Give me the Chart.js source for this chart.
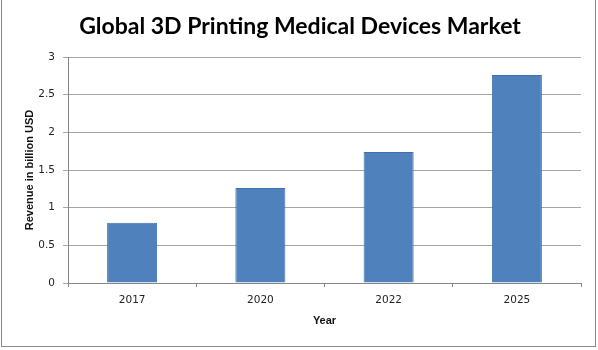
<!DOCTYPE html>
<html>
<head>
<meta charset="utf-8">
<title>Global 3D Printing Medical Devices Market</title>
<script src="https://cdn.jsdelivr.net/npm/chart.js@4/dist/chart.umd.min.js"></script>
<style>
    html, body { margin: 0; padding: 0; background: #fff; }
    #wrap { position: relative; width: 598px; height: 350px; }
    #frame {
        position: absolute; left: 1px; top: 0; width: 595px; height: 347px;
        box-sizing: border-box;
        border-left: 1px solid #8a8a8a; border-right: 1px solid #8a8a8a; border-bottom: 1px solid #8a8a8a;
    }
    #chart { position: absolute; left: 0; top: 0; }
</style>
</head>
<body>
<div id="wrap">
    <div id="frame"></div>
    <canvas id="chart" width="598" height="350"></canvas>
</div>
<script>
// market size by year, billion USD
const years = ['2017', '2020', '2022', '2025'];
const revenue = [0.80, 1.26, 1.74, 2.76];
const yTicks = [0, 0.5, 1, 1.5, 2, 2.5, 3];

const gridGray = '#a6a6a6';
const axisGray = '#868686';
const tickFont = { family: "'DejaVu Sans'", size: 10.5 };
const axisTitleFont = { family: "'Liberation Sans'", size: 11, weight: 'bold', lineHeight: 1.2 };

const ctx = document.getElementById('chart').getContext('2d');
new Chart(ctx, {
    type: 'bar',
    data: {
        labels: years,
        datasets: [{
            label: 'Revenue',
            data: revenue,
            backgroundColor: '#4f81bd',
            borderColor: '#3f6fa8',
            borderWidth: 1,
            categoryPercentage: 1,
            barPercentage: 0.39
        }]
    },
    options: {
        responsive: false,
        animation: false,
        layout: { padding: { left: 19, right: 17, top: 0, bottom: 22 } },
        plugins: {
            legend: { display: false },
            tooltip: { enabled: false },
            title: {
                display: true,
                text: 'Global 3D Printing Medical Devices Market',
                color: '#000',
                font: { family: "'Lato'", size: 23, weight: 'bold', lineHeight: 1.2 },
                padding: { top: 13, bottom: 16.4 }
            }
        },
        scales: {
            x: {
                grid: { offset: true, drawOnChartArea: false, drawTicks: true, tickLength: 4, color: axisGray },
                border: { display: true, color: axisGray },
                ticks: { color: '#222', padding: 7, font: tickFont },
                title: { display: true, text: 'Year', color: '#111', padding: 0, font: axisTitleFont },
                afterFit: scale => { scale.height = 45; }
            },
            y: {
                min: 0,
                max: 3,
                afterBuildTicks: scale => { scale.ticks = yTicks.map(v => ({ value: v })); },
                grid: { color: gridGray, tickLength: 5, drawTicks: true },
                border: { display: true, color: axisGray },
                ticks: { color: '#222', padding: 8, font: tickFont, callback: v => String(v) },
                title: { display: true, text: 'Revenue in billion USD', color: '#111', padding: { top: 4, bottom: 0 }, font: axisTitleFont },
                afterFit: scale => { scale.width = 49; }
            }
        }
    }
});
</script>
</body>
</html>
